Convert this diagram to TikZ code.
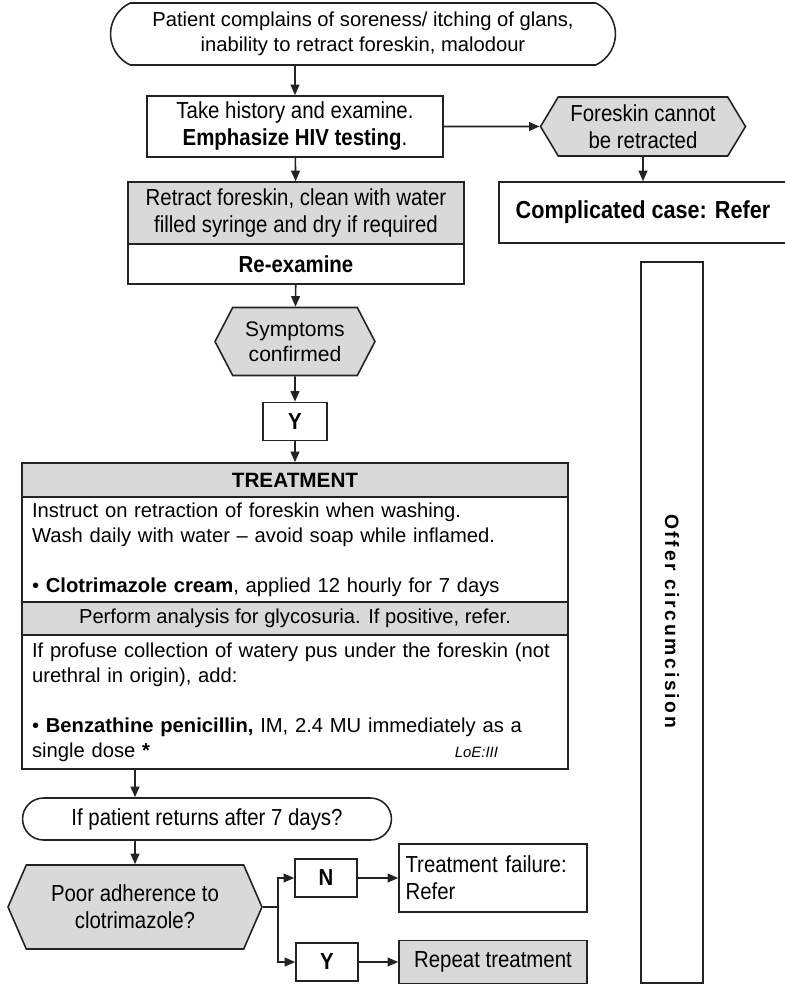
\documentclass[tikz,border=0pt]{standalone}
\usepackage{fontspec}
\setmainfont{Liberation Sans}
\newfontfamily\narrowfont[FakeStretch=0.88]{Liberation Sans}
\usepackage{tikz}
\usetikzlibrary{shapes.misc,shapes.symbols,arrows.meta}

\definecolor{boxgray}{RGB}{217,217,217}
\definecolor{linegray}{RGB}{35,35,35}

\tikzset{
	every node/.style={font=\fontsize{11.5}{14.2}\selectfont},
	box/.style={draw=linegray, line width=0.9pt, rectangle, align=center, inner sep=2pt},
	term/.style={draw=linegray, line width=0.9pt, rounded rectangle, align=center, inner sep=2pt},
	hexa/.style={draw=linegray, line width=0.9pt, signal, signal to=east and west,
		signal pointer angle=125, fill=boxgray, align=center, inner sep=1pt},
	grey/.style={fill=boxgray},
	narrow/.style={font=\fontsize{13.2}{15.4}\selectfont\narrowfont},
	narrowlg/.style={font=\fontsize{14}{15.4}\selectfont\narrowfont},
	arr/.style={draw=linegray, line width=0.9pt, -{Triangle[length=6pt,width=5pt]}}
}

\begin{document}
\begin{tikzpicture}[x=0.02cm, y=-0.02cm]
	\useasboundingbox (0,0) rectangle (785,985);

	\node[term, rounded rectangle arc length=130, minimum width=10.24cm, minimum height=1.24cm] (start) at (363,34)
		{Patient complains of soreness/ itching of glans,\\ inability to retract foreskin, malodour};

	\node[box, narrow, minimum width=5.92cm, minimum height=1.22cm] (hist) at (295,126.5)
		{Take history and examine.\\ \textbf{Emphasize HIV testing}.};
	\node[hexa, narrow, signal pointer angle=118, minimum width=4.1cm, minimum height=1.18cm] (fore) at (643,126.5)
		{Foreskin cannot\\ be retracted};
	\node[box, narrowlg, minimum width=5.76cm, minimum height=1.22cm] (compl) at (643,212.5)
		{\textbf{Complicated case: Refer}};

	\node[box, grey, narrow, minimum width=6.72cm, minimum height=1.24cm] (retract) at (296,213)
		{Retract foreskin, clean with water\\ filled syringe and dry if required};
	\node[box, narrow, minimum width=6.72cm, minimum height=0.8cm] (reexam) at (296,264)
		{\textbf{Re-examine}};

	\node[hexa, font=\fontsize{12}{14.2}\selectfont, minimum width=3.2cm, minimum height=1.36cm] (sympt) at (295,341.5)
		{Symptoms\\ confirmed};
	\node[box, narrow, minimum width=1.28cm, minimum height=0.76cm] (yes1) at (295,421.5)
		{\textbf{Y}};

	% treatment block
	\node[box, grey, font=\fontsize{11.8}{14.2}\selectfont, minimum width=10.92cm, minimum height=0.68cm] (treat) at (295,480)
		{\textbf{TREATMENT}};
	\node[box, minimum height=2.1cm, text width=10.52cm, inner xsep=0.2cm, align=left] (body1) at (295,549.5)
		{Instruct on retraction of foreskin when washing.\\
		 Wash daily with water -- avoid soap while inflamed.\\[14.2pt]
		 \textbullet\ \textbf{Clotrimazole cream}, applied 12 hourly for 7 days};
	\node[box, grey, minimum width=10.92cm, minimum height=0.66cm] (gluc) at (295,618.5)
		{Perform analysis for glycosuria. If positive, refer.};
	\node[box, minimum height=2.68cm, text width=10.52cm, inner xsep=0.2cm, align=left] (body2) at (295,702)
		{If profuse collection of watery pus under the foreskin (not\\
		 urethral in origin), add:\\[14.2pt]
		 \textbullet\ \textbf{Benzathine penicillin,} IM, 2.4 MU immediately as a\\
		 single dose \textbf{*}\hskip 0pt plus 1filll{\fontsize{8.5}{10}\selectfont\itshape LoE:III}\rule{1.2cm}{0pt}};

	\node[box, minimum width=1.24cm, minimum height=14.42cm] (offer) at (672,622.5)
		{\rotatebox{-90}{\fontsize{11}{13}\selectfont\textbf{\addfontfeature{LetterSpace=14}Offer circumcision}}};

	\node[term, narrow, minimum width=7.52cm, minimum height=0.84cm] (back) at (207,819)
		{If patient returns after 7 days?};
	\node[hexa, narrow, signal pointer angle=133, minimum width=5.08cm, minimum height=1.68cm] (adher) at (135,907)
		{Poor adherence to\\ clotrimazole?};
	\coordinate (split) at (278,907);
	\node[box, narrow, minimum width=1.24cm, minimum height=0.76cm] (no2) at (326,878) {\textbf{N}};
	\node[box, narrow, minimum width=1.24cm, minimum height=0.76cm] (yes2) at (327,962) {\textbf{Y}};
	\node[box, narrow, minimum height=1.36cm, text width=3.5cm, inner xsep=0.13cm, align=left] (fail) at (493,878)
		{Treatment failure:\\ Refer};
	\node[box, grey, narrow, minimum width=3.76cm, minimum height=0.86cm] (repeat) at (493,962)
		{Repeat treatment};

	\draw[arr] (start.south -| hist) -- (hist);
	\draw[arr] (hist) -- (fore);
	\draw[arr] (fore.south) -- (fore.south |- compl.north);
	\draw[arr] (hist) -- (retract);
	\draw[arr] (reexam) -- (sympt);
	\draw[arr] (sympt) -- (yes1);
	\draw[arr] (yes1) -- (treat);
	\draw[arr] (body2.south -| adher) -- (back.north -| adher);
	\draw[arr] (back.south -| adher) -- (adher);
	\draw[draw=linegray, line width=0.9pt] (adher.east) -- (split);
	\draw[arr] (split) |- (no2);
	\draw[arr] (split) |- (yes2);
	\draw[arr] (no2) -- (fail);
	\draw[arr] (yes2) -- (repeat);
\end{tikzpicture}
\end{document}
